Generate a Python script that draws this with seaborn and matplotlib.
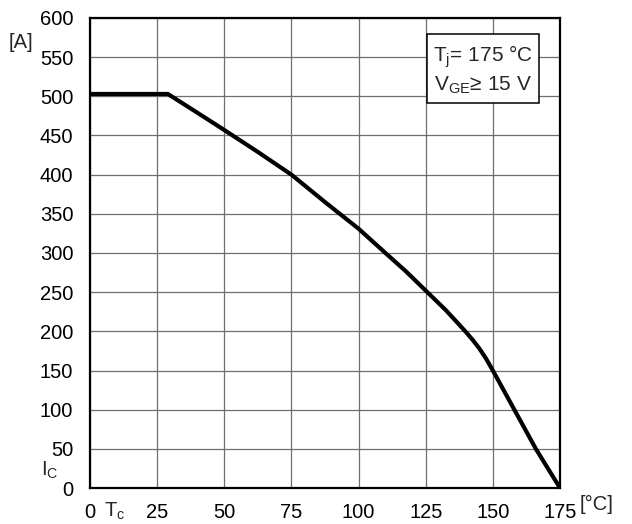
import matplotlib
matplotlib.use("Agg")
import matplotlib.pyplot as plt
import seaborn as sns
import pandas as pd

# Collector current derating vs. case temperature
case_temp_c = [0, 29, 40, 50, 62.5, 75, 87.5, 100, 110, 117.5, 125,
               132.5, 136, 140, 142.5, 145, 147.5, 150, 154, 158, 166, 175]
collector_current_a = [503, 503, 479, 457, 429, 400, 365, 331, 300, 277, 252,
                       227, 214, 199, 189, 178, 165, 150, 125, 100, 50, 0]

x_ticks = [0, 25, 50, 75, 100, 125, 150, 175]
y_ticks = [0, 50, 100, 150, 200, 250, 300, 350, 400, 450, 500, 550, 600]

sns.set_theme(style="white")
plt.rcParams["font.family"] = ["Liberation Sans", "DejaVu Sans"]
plt.rcParams["mathtext.fontset"] = "custom"
plt.rcParams["mathtext.rm"] = "Liberation Sans"

df = pd.DataFrame({"Tc": case_temp_c, "Ic": collector_current_a})

fig = plt.figure(figsize=(6.32, 5.24), dpi=100)
ax = fig.add_axes([90 / 632, 36 / 524, 470 / 632, 470 / 524])

sns.lineplot(data=df, x="Tc", y="Ic", ax=ax, color="black", linewidth=3.0,
             solid_joinstyle="round", zorder=5)

ax.set_xlim(0, 175)
ax.set_ylim(0, 600)
ax.set_xticks(x_ticks)
ax.set_yticks(y_ticks)
ax.set_xticklabels([str(t) for t in x_ticks])
ax.set_yticklabels([str(t) for t in y_ticks])
ax.tick_params(axis="both", length=0, labelsize=14.5, colors="black")
ax.tick_params(axis="x", pad=11)
ax.tick_params(axis="y", pad=12)
ax.grid(True, color="#6e6e6e", linewidth=0.9)
ax.set_axisbelow(True)
for sp in ax.spines.values():
    sp.set_color("black")
    sp.set_linewidth(1.6)
ax.set_xlabel("")
ax.set_ylabel("")

# axis symbols and units
fig.text(104 / 632, 1 - 511 / 524, "T$_\\mathregular{c}$", fontsize=14.5,
         ha="left", va="center")
fig.text(580 / 632, 1 - 504 / 524, "[°C]", fontsize=14.5, ha="left", va="center")
fig.text(41 / 632, 1 - 470 / 524, "I$_\\mathregular{C}$", fontsize=14.5,
         ha="left", va="center")
fig.text(9 / 632, 1 - 42 / 524, "[A]", fontsize=14.5, ha="left", va="center")

ax.text(0.836, 0.890,
        "T$_\\mathregular{j}$= 175 °C\nV$_\\mathregular{GE}$≥ 15 V",
        transform=ax.transAxes, fontsize=15, ha="center", va="center",
        linespacing=1.3, zorder=6,
        bbox=dict(boxstyle="square,pad=0.3", facecolor="white",
                  edgecolor="black", linewidth=1.1))

fig.savefig("out.png", dpi=100, facecolor="white")
